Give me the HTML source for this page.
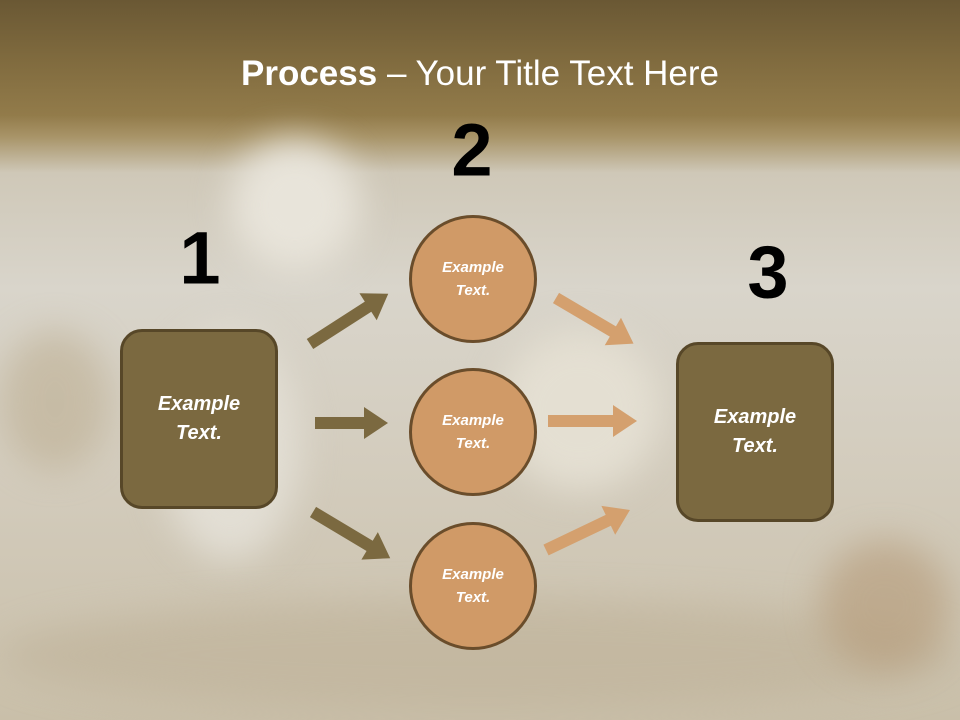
<!DOCTYPE html>
<html><head><meta charset="utf-8"><style>
html,body{margin:0;padding:0;width:960px;height:720px;overflow:hidden}
#w{width:960px;height:720px;position:relative;overflow:hidden;font-family:"Liberation Sans",sans-serif;
background:linear-gradient(180deg,#6a5834 0%,#7f6a3e 8%,#927b4a 16%,#a89468 19%,#cfc8b8 24%,#d9d5cb 40%,#d3ccbd 65%,#c9bfa9 100%);}
.blob{position:absolute;border-radius:50%;filter:blur(18px)}
.title{position:absolute;top:54px;left:0;width:960px;text-align:center;color:#fff;font-size:35px;font-family:"Liberation Sans",sans-serif}
.num{position:absolute;font-size:74px;font-weight:bold;color:#000;font-family:"Liberation Sans",sans-serif;transform:translate(-50%,-50%)}
.sq{position:absolute;width:152px;height:174px;background:#7b6940;border:3px solid #574728;border-radius:22px;color:#fff;font-weight:bold;font-style:italic;font-size:20px;display:flex;align-items:center;justify-content:center;text-align:center;line-height:29px;box-sizing:content-box}
.c{position:absolute;width:122px;height:122px;border-radius:50%;background:#d09a67;border:3px solid #6a4d2b;color:#fff;font-weight:bold;font-style:italic;font-size:15px;display:flex;align-items:center;justify-content:center;text-align:center;line-height:23px}
</style></head><body><div id="w">
<div class="blob" style="left:230px;top:140px;width:130px;height:130px;background:#e8e4da"></div>
<div class="blob" style="left:160px;top:330px;width:140px;height:230px;background:#e2ded4"></div>
<div class="blob" style="left:500px;top:330px;width:160px;height:160px;background:#e4dfd2"></div>
<div class="blob" style="left:0px;top:600px;width:960px;height:110px;background:#bfb299;opacity:.6"></div>
<div class="blob" style="left:0px;top:330px;width:110px;height:140px;background:#b9a98a;opacity:.5"></div>
<div class="blob" style="left:820px;top:540px;width:130px;height:130px;background:#b59a78;opacity:.6"></div>
<div class="title"><b>Process</b> – Your Title Text Here</div>
<div class="num" style="left:200px;top:258px">1</div>
<div class="num" style="left:472px;top:150px">2</div>
<div class="num" style="left:768px;top:272px">3</div>
<svg width="960" height="720" style="position:absolute;left:0;top:0">
<g fill="#7b6940">
<polygon transform="translate(310,344) rotate(-32.7)" points="0,-6 69,-6 69,-16 93,0 69,16 69,6 0,6"/>
<polygon transform="translate(315,423)" points="0,-6 49,-6 49,-16 73,0 49,16 49,6 0,6"/>
<polygon transform="translate(313,512) rotate(30.9)" points="0,-6 66,-6 66,-16 90,0 66,16 66,6 0,6"/>
</g>
<g fill="#d4a06e">
<polygon transform="translate(556,298) rotate(30.5)" points="0,-6 66,-6 66,-16 90,0 66,16 66,6 0,6"/>
<polygon transform="translate(548,421)" points="0,-6 65,-6 65,-16 89,0 65,16 65,6 0,6"/>
<polygon transform="translate(546,550) rotate(-25.5)" points="0,-6 69,-6 69,-16 93,0 69,16 69,6 0,6"/>
</g>
</svg>
<div class="sq" style="left:120px;top:329px">Example<br>Text.</div>
<div class="sq" style="left:676px;top:342px">Example<br>Text.</div>
<div class="c" style="left:409px;top:215px">Example<br>Text.</div>
<div class="c" style="left:409px;top:368px">Example<br>Text.</div>
<div class="c" style="left:409px;top:522px">Example<br>Text.</div>
</div></body></html>
